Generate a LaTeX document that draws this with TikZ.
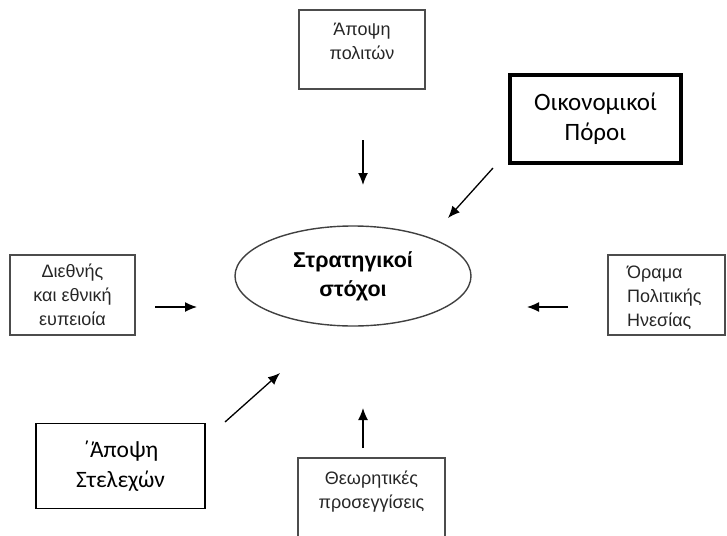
\documentclass[tikz,border=0pt]{standalone}
\usepackage{fontspec}
\setmainfont{Liberation Sans}
\newfontfamily\calibri{Carlito}
\usetikzlibrary{arrows.meta,shapes.geometric}
\begin{document}
\begin{tikzpicture}[x=1pt, y=-1pt,
    every node/.style={font=\fontsize{18}{24}\selectfont, text=black!85, inner sep=0pt},
    scanbox/.style={draw=black!70, line width=1.4pt},
    wordbox/.style={draw=black, line width=1.7pt, align=center, text=black,
        font=\calibri\fontsize{23.5}{30}\selectfont},
    arr/.style={-{Latex[length=12pt,width=10pt]}, line width=1.3pt}]
    \useasboundingbox (0,0) rectangle (727,535);

    % goal in the middle
    \node[ellipse, draw=black!75, line width=1.4pt, minimum width=236pt, minimum height=100pt,
        align=center, font=\bfseries\fontsize{21.5}{29}\selectfont, text=black] (goals) at (353,276) {Στρατηγικοί\\στόχοι};

    % scanned boxes
    \node[scanbox, minimum width=126pt, minimum height=79pt] (citizens) at (362,49.5) {};
    \node[align=center] (citizenstxt) at (362,41) {Άποψη\\πολιτών};
    \node[scanbox, minimum width=125pt, minimum height=80pt, align=center] (experience) at (72.5,295) {Διεθνής\\και εθνική\\ευπειοία};
    \node[scanbox, minimum width=117pt, minimum height=80pt] (vision) at (666.5,295) {};
    \node[anchor=west, align=left] (visiontxt) at (627,298) {Όραμα\\Πολιτικής\\Ηνεσίας};
    \draw[scanbox] (298,560) -- (298,458) -- (445,458) -- (445,560);
    \node[align=center] (theory) at (371.5,491.5) {Θεωρητικές\\προσεγγίσεις};

    % typed boxes
    \node[wordbox, line width=3.5pt, minimum width=171pt, minimum height=88pt,
        font=\calibri\fontsize{25}{30}\selectfont] (funds) at (595.5,119) {Οικονομικοί\\Πόροι};
    \node[wordbox, minimum width=169pt, minimum height=85pt] (staff) at (120.5,466) {΄Άποψη\\Στελεχών};

    % arrow ends
    \coordinate (c1) at (363,140); \coordinate (g1) at (363,185);
    \coordinate (c2) at (493,168); \coordinate (g2) at (448,218);
    \coordinate (c3) at (155,307); \coordinate (g3) at (197,307);
    \coordinate (c4) at (568,307); \coordinate (g4) at (527,307);
    \coordinate (c5) at (225,422); \coordinate (g5) at (280,373);
    \coordinate (c6) at (363,448); \coordinate (g6) at (363,408);
    \foreach \i in {1,...,6}
    \draw[arr] (c\i) -- (g\i);
\end{tikzpicture}
\end{document}
